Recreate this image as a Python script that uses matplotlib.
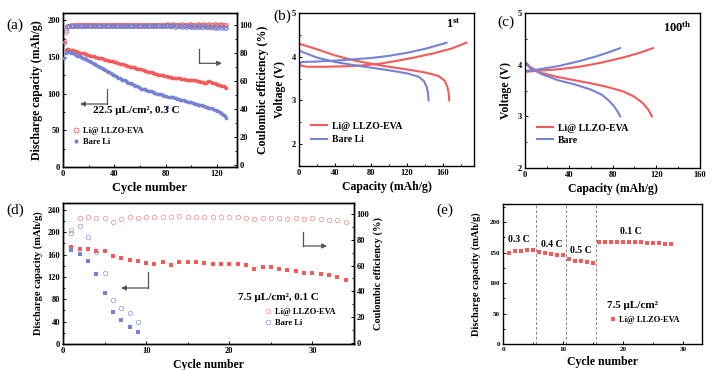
import matplotlib
matplotlib.use('Agg')
import matplotlib.pyplot as plt
from matplotlib.patches import FancyArrowPatch
from matplotlib.lines import Line2D

plt.rcParams['font.family'] = ['Liberation Serif', 'DejaVu Serif']
plt.rcParams['font.weight'] = 'bold'
plt.rcParams['mathtext.fontset'] = 'custom'
plt.rcParams['mathtext.rm'] = 'Liberation Serif'
plt.rcParams['mathtext.bf'] = 'Liberation Serif:bold'

RED = '#f25b5b'
BLUE = '#7682d4'
RED_LIGHT = '#f29a9a'
BLUE_LIGHT = '#9aa3e2'

# ---------------- (a) long cycling, 22.5 uL/cm2, 0.3 C ----------------
cycles_a = list(range(1, 128))
cap_a_llzo = [171, 160, 161, 161, 160, 160, 159, 159, 158, 158,
              157, 157, 156, 156, 155, 155, 154, 154, 153, 153,
              152, 152, 151, 151, 150, 150, 149, 149, 148, 148,
              147, 147, 146, 146, 146, 145, 145, 144, 144, 143,
              143, 142, 142, 141, 141, 140, 140, 139, 139, 138,
              138, 137, 137, 136, 136, 135, 135, 134, 134, 133,
              133, 132, 132, 131, 131, 130, 130, 129, 129, 128,
              128, 127, 127, 126, 126, 125, 125, 125, 124, 124,
              124, 123, 123, 123, 122, 122, 122, 121, 121, 121,
              121, 120, 120, 120, 120, 119, 119, 119, 119, 118,
              118, 118, 118, 117, 117, 117, 116, 116, 116, 115,
              115, 116, 117, 117, 116, 115, 114, 114, 113, 113,
              112, 112, 111, 111, 110, 109, 108]
cap_a_bare = [148, 156, 157, 157, 157, 156, 156, 155, 154, 153,
              152, 151, 151, 150, 149, 148, 147, 147, 146, 145,
              144, 143, 142, 141, 140, 139, 138, 137, 136, 135,
              134, 133, 132, 131, 130, 129, 128, 127, 126, 125,
              124, 123, 122, 121, 120, 119, 118, 118, 117, 116,
              115, 114, 114, 113, 112, 111, 110, 110, 109, 108,
              107, 107, 106, 106, 105, 104, 104, 103, 103, 102,
              101, 101, 100, 100, 99, 99, 98, 98, 97, 97,
              82, 96, 96, 96, 95, 95, 94, 94, 93, 93,
              92, 92, 91, 91, 90, 90, 89, 89, 88, 88,
              87, 87, 86, 86, 85, 85, 84, 84, 83, 83,
              82, 82, 81, 81, 80, 80, 79, 78, 78, 77,
              76, 75, 74, 72, 71, 69, 67]
ce_a_llzo = [89.5, 95.0, 99.2, 99.5, 99.6, 99.7, 99.6, 99.8, 99.7, 99.8,
             99.7, 99.9, 99.8, 99.7, 99.9, 99.8, 99.7, 99.9, 99.8, 99.9,
             99.8, 99.7, 99.9, 99.8, 99.9, 99.7, 99.8, 99.9, 99.8, 99.7,
             99.9, 99.8, 99.9, 99.7, 99.8, 99.9, 99.8, 99.7, 99.9, 99.8,
             99.9, 99.8, 99.7, 99.9, 99.8, 99.9, 99.8, 99.7, 99.9, 99.8,
             99.9, 99.8, 99.7, 99.9, 99.8, 99.9, 99.8, 99.7, 99.9, 99.8,
             99.9, 99.8, 99.7, 99.9, 100.1, 99.9, 99.8, 100.0, 99.9, 99.8,
             100.0, 99.9, 100.2, 99.8, 100.0, 99.9, 100.1, 99.8, 100.3, 99.9,
             100.5, 99.8, 100.2, 100.0, 99.9, 100.4, 99.8, 100.1, 100.3, 99.9,
             100.2, 100.0, 100.4, 99.9, 100.1, 100.3, 99.8, 100.2, 100.4, 100.0,
             100.1, 100.3, 99.9, 100.2, 100.5, 100.0, 100.2, 99.9, 100.4, 100.1,
             100.3, 100.0, 100.2, 100.5, 99.9, 100.3, 100.1, 100.4, 100.0, 100.2,
             100.3, 100.1, 100.4, 100.0, 100.2, 100.3, 100.1]
ce_a_bare = [87.0, 96.5, 98.8, 99.0, 99.1, 99.2, 99.1, 99.2, 99.3, 99.2,
             99.3, 99.2, 99.3, 99.1, 99.2, 99.3, 99.2, 99.1, 99.3, 99.2,
             99.3, 99.2, 99.1, 99.3, 99.2, 99.3, 99.1, 99.2, 99.3, 99.2,
             99.1, 99.3, 99.2, 99.3, 99.1, 99.2, 99.3, 99.2, 99.1, 99.3,
             99.2, 99.3, 99.1, 99.2, 99.3, 99.2, 99.1, 99.3, 99.2, 99.3,
             99.1, 99.2, 99.3, 99.2, 99.1, 99.3, 99.2, 99.3, 99.1, 99.2,
             99.3, 99.2, 99.4, 99.1, 99.3, 99.2, 99.5, 99.1, 99.3, 99.6,
             99.2, 99.0, 99.4, 99.7, 99.1, 99.3, 99.6, 99.0, 99.4, 99.2,
             99.8, 99.1, 99.5, 99.0, 99.3, 99.7, 98.9, 99.4, 99.1, 99.6,
             99.0, 99.3, 98.9, 99.5, 99.1, 98.8, 99.4, 99.0, 98.9, 99.3,
             98.8, 99.1, 98.7, 99.2, 98.9, 98.6, 99.0, 98.8, 98.5, 99.1,
             98.7, 98.4, 98.9, 98.6, 98.3, 98.8, 98.5, 98.2, 98.7, 98.4,
             98.1, 98.6, 98.3, 97.9, 98.4, 98.0, 97.7]

# ---------------- (b) 1st cycle voltage profiles ----------------
b_llzo_chg_cap = [0, 3, 10, 30, 50, 70, 90, 110, 130, 150, 170, 186]
b_llzo_chg_v = [3.85, 3.79, 3.77, 3.77, 3.78, 3.80, 3.84, 3.91, 3.99, 4.08, 4.19, 4.32]
b_llzo_dis_cap = [0, 20, 40, 60, 80, 100, 120, 140, 155, 162, 165, 166.5, 167]
b_llzo_dis_v = [4.30, 4.17, 4.03, 3.92, 3.84, 3.77, 3.71, 3.64, 3.56, 3.45, 3.30, 3.15, 3.0]
b_bare_chg_cap = [0, 0, 0.5, 2, 5, 20, 40, 60, 80, 100, 120, 140, 164]
b_bare_chg_v = [2.5, 3.6, 3.82, 3.87, 3.88, 3.89, 3.91, 3.94, 3.97, 4.02, 4.09, 4.18, 4.32]
b_bare_dis_cap = [0, 20, 40, 60, 80, 100, 120, 133, 139, 142, 143.5, 144]
b_bare_dis_v = [4.14, 3.98, 3.88, 3.81, 3.75, 3.69, 3.62, 3.54, 3.44, 3.30, 3.15, 3.0]

# ---------------- (c) 100th cycle voltage profiles ----------------
c_llzo_chg_cap = [0, 10, 30, 50, 70, 90, 105, 117]
c_llzo_chg_v = [3.86, 3.88, 3.91, 3.96, 4.04, 4.14, 4.23, 4.32]
c_llzo_dis_cap = [0, 5, 15, 30, 45, 60, 75, 90, 100, 108, 113, 116]
c_llzo_dis_v = [4.06, 3.95, 3.84, 3.76, 3.70, 3.64, 3.57, 3.48, 3.38, 3.25, 3.12, 3.0]
c_bare_chg_cap = [0, 10, 30, 50, 65, 78, 87]
c_bare_chg_v = [3.88, 3.90, 3.97, 4.07, 4.16, 4.25, 4.32]
c_bare_dis_cap = [0, 5, 15, 30, 45, 60, 70, 77, 82, 85, 87]
c_bare_dis_v = [4.04, 3.93, 3.82, 3.70, 3.62, 3.52, 3.42, 3.30, 3.18, 3.08, 3.0]

# ---------------- (d) 7.5 uL/cm2, 0.1 C ----------------
cycles_d_llzo = list(range(1, 35))
cap_d_llzo = [173, 171, 170, 167, 166, 158, 154, 150, 149, 145,
              143, 147, 142, 146, 146, 146, 145, 144, 144, 143,
              143, 142, 134, 137, 137, 134, 132, 130, 127, 127,
              125, 123, 120, 115]
ce_d_llzo = [87.6, 96.9, 97.7, 97.2, 96.9, 94.0, 96.1, 97.9, 97.2, 97.4,
             97.7, 97.4, 97.9, 98.2, 97.9, 97.7, 97.9, 97.4, 97.4, 97.7,
             97.4, 96.9, 96.4, 96.9, 96.6, 96.6, 96.4, 96.6, 96.1, 96.6,
             96.1, 95.3, 95.6, 94.0]
cycles_d_bare = list(range(1, 10))
cap_d_bare = [168, 161, 148, 125, 91, 57, 43, 30, 21]
ce_d_bare = [85.0, 90.4, 82.0, 70.8, 54.0, 33.3, 27.0, 23.5, 16.3]

# ---------------- (e) rate capability ----------------
cycles_e = list(range(1, 29))
cap_e = [149, 152, 153, 155, 154, 151, 149, 148, 147, 146,
         139, 137, 137, 134, 133, 168, 168, 168, 167, 167,
         167, 167, 167, 166, 166, 166, 165, 164]
rate_boundaries = [5.5, 10.5, 15.5]
rate_labels = ['0.3 C', '0.4 C', '0.5 C', '0.1 C']
rate_label_pos = [(2.7, 172), (8.1, 164), (13.0, 153), (21.3, 184)]

W, H = 716, 370
fig = plt.figure(figsize=(W / 100, H / 100), dpi=100)


def rect(l, t, r, b):
    return [l / W, 1 - b / H, (r - l) / W, (b - t) / H]


def fp(x, y):
    return (x / W, 1 - y / H)


TICK = dict(direction='in', length=2.5, width=0.7, labelsize=6, pad=2)
MINOR = dict(direction='in', length=1.5, width=0.6)


def style(ax, right=False):
    for s in ax.spines.values():
        s.set_linewidth(1.0)
    ax.tick_params(which='major', **TICK)
    ax.tick_params(which='minor', **MINOR)
    if right:
        ax.tick_params(which='both', left=False, right=True)
    for lab in ax.get_xticklabels() + ax.get_yticklabels():
        lab.set_fontweight('bold')


def arrow_L(x0, y0, x1, y1, x2):
    # vertical segment (x0,y0)->(x1,y1) then horizontal arrow to x2
    fig.add_artist(Line2D([x0 / W, x1 / W], [1 - y0 / H, 1 - y1 / H],
                          transform=fig.transFigure, color='#555555', lw=0.9))
    fig.add_artist(FancyArrowPatch(fp(x1, y1), fp(x2, y1), transform=fig.transFigure,
                                   arrowstyle='-|>', mutation_scale=7, color='#555555',
                                   lw=0.9, shrinkA=0, shrinkB=0))


LBL = 8.5

# ===== (a) =====
axA = fig.add_axes(rect(63, 13, 237, 167))
axA2 = axA.twinx()
axA.set_zorder(2)
axA.patch.set_visible(False)
axA.plot(cycles_a, cap_a_llzo, 'o', color=RED, ms=2.6, mew=0, zorder=3)
axA.plot(cycles_a, cap_a_bare, 'o', color=BLUE, ms=2.6, mew=0, zorder=3)
axA2.plot(cycles_a, ce_a_llzo, 'o', mfc='none', mec=RED, ms=2.8, mew=0.5)
axA2.plot(cycles_a, ce_a_bare, 'o', mfc='none', mec=BLUE, ms=2.8, mew=0.5)
axA.set_xlim(0, 135.5)
axA.set_ylim(0, 210)
axA2.set_ylim(-1.4, 108.6)
axA.set_xticks([0, 40, 80, 120])
axA.set_xticks([20, 60, 100], minor=True)
axA.set_yticks([0, 50, 100, 150, 200])
axA.set_yticks([25, 75, 125, 175], minor=True)
axA2.set_yticks([0, 20, 40, 60, 80, 100])
axA2.set_yticks([10, 30, 50, 70, 90], minor=True)
style(axA)
style(axA2, right=True)
axA.tick_params(which='both', right=False)
axA.set_xlabel('Cycle number', fontsize=9, fontweight='bold', labelpad=3)
axA.set_ylabel('Discharge capacity (mAh/g)', fontsize=LBL, fontweight='bold', labelpad=3)
axA2.set_ylabel('Coulombic efficiency (%)', fontsize=LBL, fontweight='bold', labelpad=3)
axA.text(0.17, 0.365, '22.5 μL/cm², 0.3 C', transform=axA.transAxes, fontsize=8,
         fontweight='bold', va='center')
legA = axA.legend([Line2D([], [], ls='none', marker='o', mfc='none', mec=RED, ms=3.5, mew=0.6),
                   Line2D([], [], ls='none', marker='o', color=BLUE, ms=3, mew=0)],
                  ['Li@ LLZO-EVA', 'Bare Li'], loc='upper left', bbox_to_anchor=(0.05, 0.26),
                  frameon=False, fontsize=6, handlelength=1.0, handletextpad=0.4,
                  labelspacing=0.35, borderaxespad=0, borderpad=0)
for t in legA.get_texts():
    t.set_fontweight('bold')
fig.text(*fp(15, 25), '(a)', fontsize=11, fontweight='normal', ha='center', va='center')

# ===== (b) =====
axB = fig.add_axes(rect(299, 13, 474, 166))
axB.plot(b_llzo_chg_cap, b_llzo_chg_v, color=RED, lw=1.5, label='Li@ LLZO-EVA')
axB.plot(b_llzo_dis_cap, b_llzo_dis_v, color=RED, lw=1.5)
axB.plot(b_bare_chg_cap, b_bare_chg_v, color=BLUE, lw=1.5, label='Bare Li')
axB.plot(b_bare_dis_cap, b_bare_dis_v, color=BLUE, lw=1.5)
axB.set_xlim(0, 194.5)
axB.set_ylim(1.5, 5)
axB.set_xticks([0, 40, 80, 120, 160])
axB.set_xticks([20, 60, 100, 140, 180], minor=True)
axB.set_yticks([2, 3, 4, 5])
axB.set_yticks([2.5, 3.5, 4.5], minor=True)
style(axB)
axB.set_xlabel('Capacity (mAh/g)', fontsize=LBL, fontweight='bold', labelpad=3)
axB.set_ylabel('Voltage (V)', fontsize=LBL, fontweight='bold', labelpad=4)
axB.text(0.88, 0.9, r'$\mathbf{1^{st}}$', transform=axB.transAxes, fontsize=9, ha='center')
legB = axB.legend(loc='upper left', bbox_to_anchor=(0.07, 0.29), frameon=False, fontsize=7,
                  handlelength=1.6, handletextpad=0.5, labelspacing=0.5, borderaxespad=0, borderpad=0)
for t in legB.get_texts():
    t.set_fontweight('bold')
fig.text(*fp(282, 16), '(b)', fontsize=11, fontweight='normal', ha='center', va='center')

# ===== (c) =====
axC = fig.add_axes(rect(525, 13, 700, 168))
axC.plot(c_llzo_chg_cap, c_llzo_chg_v, color=RED, lw=1.5, label='Li@ LLZO-EVA')
axC.plot(c_llzo_dis_cap, c_llzo_dis_v, color=RED, lw=1.5)
axC.plot(c_bare_chg_cap, c_bare_chg_v, color=BLUE, lw=1.5, label='Bare')
axC.plot(c_bare_dis_cap, c_bare_dis_v, color=BLUE, lw=1.5)
axC.set_xlim(0, 160)
axC.set_ylim(2, 5)
axC.set_xticks([0, 40, 80, 120, 160])
axC.set_xticks([20, 60, 100, 140], minor=True)
axC.set_yticks([2, 3, 4, 5])
axC.set_yticks([2.5, 3.5, 4.5], minor=True)
style(axC)
axC.set_xlabel('Capacity (mAh/g)', fontsize=LBL, fontweight='bold', labelpad=3)
axC.set_ylabel('Voltage (V)', fontsize=LBL, fontweight='bold', labelpad=4)
axC.text(0.87, 0.88, r'$\mathbf{100^{th}}$', transform=axC.transAxes, fontsize=9, ha='center')
legC = axC.legend(loc='upper left', bbox_to_anchor=(0.07, 0.285), frameon=False, fontsize=7,
                  handlelength=1.6, handletextpad=0.5, labelspacing=0.3, borderaxespad=0, borderpad=0)
for t in legC.get_texts():
    t.set_fontweight('bold')
fig.text(*fp(506, 22), '(c)', fontsize=11, fontweight='normal', ha='center', va='center')

# ===== (d) =====
axD = fig.add_axes(rect(63, 203, 354, 344))
axD2 = axD.twinx()
axD.set_zorder(2)
axD.patch.set_visible(False)
axD.plot(cycles_d_llzo, cap_d_llzo, 's', color=RED, ms=2.2, mew=0)
axD.plot(cycles_d_bare, cap_d_bare, 's', color=BLUE, ms=2.2, mew=0)
pD1, = axD2.plot(cycles_d_llzo, ce_d_llzo, 'o', mfc='none', mec=RED_LIGHT, ms=3.2, mew=0.6)
pD2, = axD2.plot(cycles_d_bare, ce_d_bare, 'o', mfc='none', mec=BLUE_LIGHT, ms=3.2, mew=0.6)
axD.set_xlim(0, 35)
axD.set_ylim(0, 252.5)
axD2.set_ylim(-0.8, 108.5)
axD.set_xticks([0, 10, 20, 30])
axD.set_xticks([5, 15, 25], minor=True)
axD.set_yticks([0, 40, 80, 120, 160, 200, 240])
axD.set_yticks([20, 60, 100, 140, 180, 220], minor=True)
axD2.set_yticks([0, 20, 40, 60, 80, 100])
axD2.set_yticks([10, 30, 50, 70, 90], minor=True)
style(axD)
style(axD2, right=True)
axD.tick_params(which='both', right=False)
axD.set_xlabel('Cycle number', fontsize=LBL, fontweight='bold', labelpad=3)
axD.set_ylabel('Discharge capacity (mAh/g)', fontsize=7.5, fontweight='bold', labelpad=3)
axD2.set_ylabel('Coulombic efficiency (%)', fontsize=7.5, fontweight='bold', labelpad=3)
axD.text(0.6, 0.31, '7.5 μL/cm², 0.1 C', transform=axD.transAxes, fontsize=8, fontweight='bold')
legD = axD.legend([pD1, pD2], ['Li@ LLZO-EVA', 'Bare Li'], loc='upper left',
                  bbox_to_anchor=(0.69, 0.255), frameon=False, fontsize=6, handlelength=1.0,
                  handletextpad=0.3, labelspacing=0.35, borderaxespad=0, borderpad=0)
for t in legD.get_texts():
    t.set_fontweight('bold')
fig.text(*fp(15, 210), '(d)', fontsize=11, fontweight='normal', ha='center', va='center')

# ===== (e) =====
axE = fig.add_axes(rect(503, 204, 702, 344))
pE, = axE.plot(cycles_e, cap_e, 's', color=RED, ms=2.2, mew=0)
for xb in rate_boundaries:
    axE.axvline(xb, color='#888888', lw=0.7, ls=(0, (3, 2)))
for lab, (xx, yy) in zip(rate_labels, rate_label_pos):
    axE.text(xx, yy, lab, fontsize=7, fontweight='bold', ha='center', va='center')
axE.set_xlim(0, 33.2)
axE.set_ylim(0, 230)
axE.set_xticks([0, 10, 20, 30])
axE.set_xticks([5, 15, 25], minor=True)
axE.set_yticks([0, 50, 100, 150, 200])
axE.set_yticks([25, 75, 125, 175, 225], minor=True)
style(axE)
axE.tick_params(which='major', labelsize=5)
axE.set_xlabel('Cycle number', fontsize=LBL, fontweight='bold', labelpad=3)
axE.set_ylabel('Discharge capacity (mAh/g)', fontsize=7.5, fontweight='bold', labelpad=6)
axE.text(0.65, 0.255, '7.5 μL/cm²', transform=axE.transAxes, fontsize=8, fontweight='bold', ha='center')
legE = axE.legend([pE], ['Li@ LLZO-EVA'], loc='upper left', bbox_to_anchor=(0.53, 0.2),
                  frameon=False, fontsize=6, handlelength=1.0, handletextpad=0.3,
                  borderaxespad=0, borderpad=0)
for t in legE.get_texts():
    t.set_fontweight('bold')
fig.text(*fp(445, 210), '(e)', fontsize=11, fontweight='normal', ha='center', va='center')

# arrows
arrow_L(106.7, 89.3, 106.7, 104, 80)
arrow_L(199.3, 49.3, 199.3, 63.3, 222)
arrow_L(148.3, 272, 148.3, 288, 121)
arrow_L(303.3, 231.7, 303.3, 246, 327)

fig.savefig('out.png', dpi=100)
